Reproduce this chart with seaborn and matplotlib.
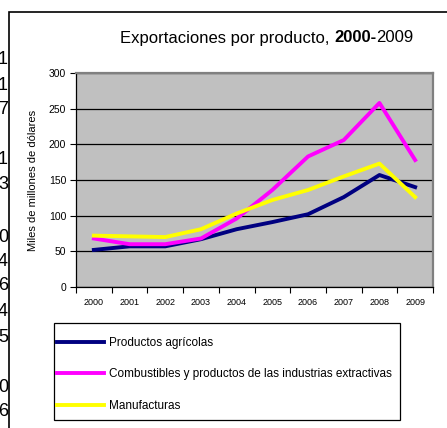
import numpy as np
import pandas as pd
import matplotlib
matplotlib.use('Agg')
import matplotlib.pyplot as plt
import seaborn as sns
from matplotlib.patches import Rectangle

# Data (miles de millones de dólares)
years = [2000, 2001, 2002, 2003, 2004, 2005, 2006, 2007, 2008, 2009]
agricolas = [52, 57, 57, 67, 81, 91, 102, 126, 157, 140]
combustibles = [68, 60, 60, 68, 96, 136, 183, 206, 258, 178]
manufacturas = [72, 71, 70, 81, 103, 122, 136, 155, 173, 126]

series_names = ['Productos agrícolas',
                'Combustibles y productos de las industrias extractivas',
                'Manufacturas']
series_colors = ['#000080', '#FF00FF', '#FFFF00']

# fragments of a neighbouring table cut off at the left edge
edge_digits = ['1', '1', '7', '1', '3', '0', '4', '6', '4', '5', '0', '6']
edge_digit_y = [60, 85, 110, 160, 185, 237, 262, 286, 312, 337, 387, 412]

df = pd.DataFrame({
    'year': years * 3,
    'value': agricolas + combustibles + manufacturas,
    'serie': [s for s in series_names for _ in years],
})

plt.rcParams['font.family'] = ['Liberation Sans Narrow', 'Liberation Sans', 'DejaVu Sans']

W, H = 447, 428
fig = plt.figure(figsize=(W / 100, H / 100), dpi=100)
ax = fig.add_axes([76 / W, 1 - 287 / H, (433 - 76) / W, (287 - 73) / H])

ax.set_facecolor('#C0C0C0')
sns.lineplot(data=df, x='year', y='value', hue='serie', palette=series_colors,
             hue_order=series_names, linewidth=2.8, ax=ax, legend=False,
             zorder=3)

ax.set_xlim(1999.5, 2009.5)
ax.set_ylim(0, 300)
ax.set_yticks(range(0, 301, 50))
ax.yaxis.grid(True, color='black', linewidth=0.9, zorder=1)
ax.set_axisbelow(True)

ax.set_xticks(years)
ax.set_xticklabels([str(y) for y in years], fontsize=6.5)
ax.set_xticks(np.arange(1999.5, 2010, 1), minor=True)
ax.tick_params(axis='x', which='major', length=0, pad=8)
ax.tick_params(axis='x', which='minor', length=4, width=0.8, direction='out')
ax.tick_params(axis='y', length=4, width=0.8, labelsize=7.5, pad=3)

for side in ['left', 'bottom']:
    ax.spines[side].set_color('black')
    ax.spines[side].set_linewidth(0.9)
for side in ['top', 'right']:
    ax.spines[side].set_color('#808080')
    ax.spines[side].set_linewidth(1.6)

ax.set_xlabel('')
ax.set_ylabel('Miles de millones de dólares', fontsize=8, labelpad=8)

# title with bold years span
fig.canvas.draw()
renderer = fig.canvas.get_renderer()
parts = [('Exportaciones por producto, ', 'normal'), ('2000-', 'bold'), ('2009', 'normal')]
texts = []
for txt, wt in parts:
    t = fig.text(0, 1 - 38 / H, txt, fontsize=12, fontweight=wt, va='center', ha='left')
    texts.append(t)
widths = [t.get_window_extent(renderer).width for t in texts]
x0 = 267 - sum(widths) / 2
for t, w in zip(texts, widths):
    t.set_x(x0 / W)
    x0 += w

# legend entries without frame, box drawn separately
handles = [plt.Line2D([], [], color=c, linewidth=2.8) for c in series_colors]
leg = fig.legend(handles, series_names, loc='upper left',
                 bbox_to_anchor=(57 / W, 1 - 337 / H), fontsize=8.5,
                 frameon=False, handlelength=4.0, handletextpad=0.42,
                 labelspacing=1.65, borderpad=0, borderaxespad=0)
fig.patches.append(Rectangle((54 / W, 1 - 420 / H), (400 - 54) / W, (420 - 323) / H,
                             transform=fig.transFigure, fill=False,
                             edgecolor='black', linewidth=0.9))

# outer chart frame
fig.patches.append(Rectangle((9 / W, -0.2), 2, 1.2 - 12 / H, transform=fig.transFigure,
                             fill=False, edgecolor='black', linewidth=1.2))

for d, yy in zip(edge_digits, edge_digit_y):
    fig.text(8 / W, 1 - yy / H, d, fontsize=13, ha='right', va='center',
             family=['Liberation Sans', 'DejaVu Sans'])

fig.savefig('out.png', dpi=100)
